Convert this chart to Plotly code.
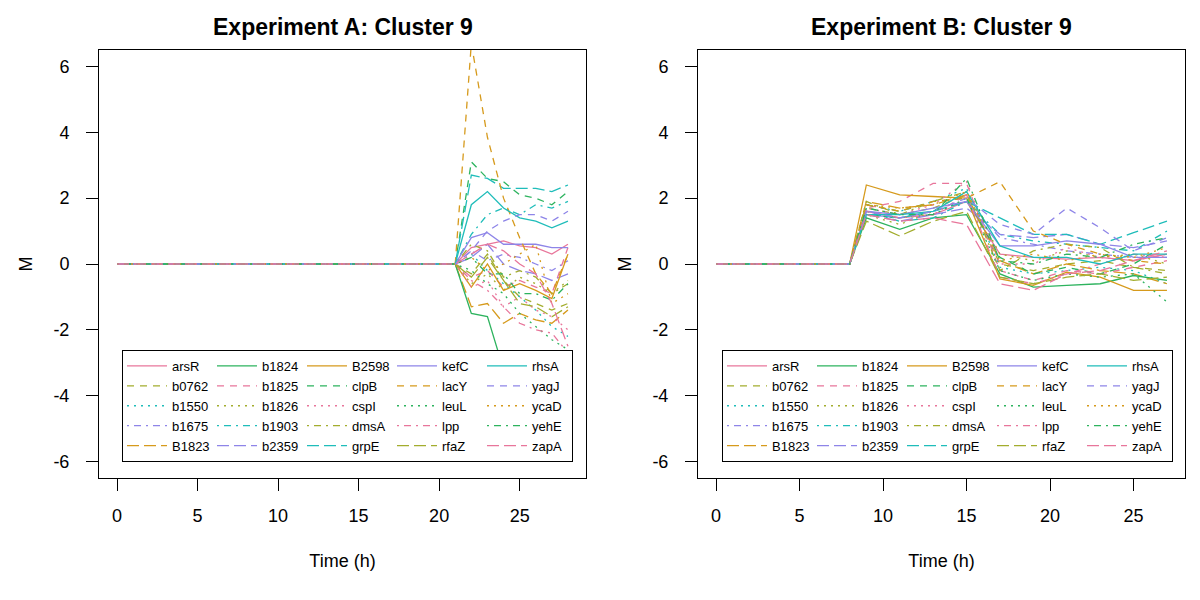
import plotly.graph_objects as go

genes = ["arsR", "b0762", "b1550", "b1675", "B1823",
         "b1824", "b1825", "b1826", "b1903", "b2359",
         "B2598", "clpB", "cspI", "dmsA", "grpE",
         "kefC", "lacY", "leuL", "lpp", "rfaZ",
         "rhsA", "yagJ", "ycaD", "yehE", "zapA"]

palette = ["#E8769B", "#A3AD2E", "#1FBDBA", "#8E85E8", "#D69A1C", "#2DB35E"]
dashes = ["solid", "7px,6px", "2px,5px", "2px,5px,7px,5px", "12px,5px"]

# Experiment A: time 0..28 h, flat until 21 h
times_a = list(range(0, 29))
flat_a = [0.0] * 22
vals_a = {
    "arsR":  [0.5, 0.6, 0.7, 0.55, 0.5, 0.3, 0.6],
    "b0762": [-0.3, 0.3, -0.5, -1.0, -1.2, -1.4, -1.2],
    "b1550": [0.3, -0.2, -0.6, -1.0, -1.4, -1.9, -2.2],
    "b1675": [0.4, 0.1, 0.3, 0.2, 0.0, -0.2, 0.1],
    "B1823": [-1.3, -1.2, -1.8, -1.5, -1.7, -1.8, -1.4],
    "b1824": [-1.5, -1.6, -3.2, -3.0, -3.05, -3.1, -3.2],
    "b1825": [-0.4, -0.2, -0.7, -0.5, -0.7, -0.9, 0.5],
    "b1826": [-0.6, -0.3, -0.8, -0.4, -0.6, -0.9, -0.5],
    "b1903": [0.9, 1.5, 1.7, 1.5, 1.8, 1.7, 1.9],
    "b2359": [0.2, 0.6, 0.0, -0.2, -0.3, -0.5, -0.3],
    "B2598": [-0.7, 0.0, -0.8, -0.6, -0.8, -1.05, 0.3],
    "clpB":  [3.1, 2.6, 2.5, 2.1, 2.0, 1.8, 2.2],
    "cspI":  [-0.7, -0.5, -1.3, -1.0, -1.4, -1.6, -2.0],
    "dmsA":  [0.6, 0.4, -0.4, -0.2, -0.4, -0.9, -0.6],
    "grpE":  [2.7, 2.6, 2.3, 2.3, 2.3, 2.2, 2.4],
    "kefC":  [0.8, 0.95, 0.6, 0.6, 0.6, 0.5, 0.5],
    "lacY":  [6.7, 3.85, 2.0, 0.8, -0.3, -0.9, 0.3],
    "leuL":  [-0.2, -0.6, -0.9, -1.5, -1.9, -2.3, -2.6],
    "lpp":   [-0.5, -0.8, -1.3, -1.8, -2.0, -2.1, -2.7],
    "rfaZ":  [-0.4, 0.2, -0.5, -1.2, -1.3, -1.6, -1.3],
    "rhsA":  [1.8, 2.2, 1.7, 1.4, 1.3, 1.1, 1.3],
    "yagJ":  [0.4, 1.0, 1.3, 1.5, 1.5, 1.3, 1.6],
    "ycaD":  [0.2, -0.2, 0.0, 0.3, 0.6, -1.2, -0.9],
    "yehE":  [0.2, -0.3, -0.3, -0.9, -0.9, -1.1, -0.6],
    "zapA":  [0.3, 0.6, 0.4, 0.0, -0.3, -1.2, -2.5],
}

# Experiment B: flat 0..8 h, then every 2 h from 9 to 27
times_b = list(range(0, 9)) + list(range(9, 28, 2))
flat_b = [0.0] * 9
vals_b = {
    "arsR":  [1.6, 1.4, 1.5, 1.9, 0.3, 0.2, 0.15, 0.2, 0.1, 0.3],
    "b0762": [1.7, 1.5, 1.7, 2.1, 0.0, -0.2, 0.0, 0.1, -0.1, -0.2],
    "b1550": [1.8, 1.6, 1.9, 2.3, -0.1, -0.3, -0.2, -0.1, -0.2, -0.6],
    "b1675": [1.5, 1.4, 1.6, 1.9, 0.8, 0.6, 0.4, 0.3, 0.2, 0.2],
    "B1823": [1.9, 1.7, 1.8, 2.1, 0.1, -0.3, 0.0, -0.2, -0.3, -0.6],
    "b1824": [1.4, 1.05, 1.4, 1.5, -0.3, -0.7, -0.65, -0.6, -0.35, -0.5],
    "b1825": [1.7, 1.9, 2.45, 2.45, -0.2, -0.5, -0.2, -0.3, -0.1, 0.1],
    "b1826": [1.5, 1.2, 1.6, 2.2, 0.3, 0.1, 0.4, 0.2, 0.3, 0.0],
    "b1903": [1.6, 1.3, 1.4, 1.9, 0.9, 0.7, 0.6, 0.5, 0.4, 1.0],
    "b2359": [1.5, 1.3, 1.5, 1.7, 0.9, 0.8, 0.9, 0.6, 0.5, 0.7],
    "B2598": [2.4, 2.1, 2.05, 2.0, -0.45, -0.65, -0.25, -0.4, -0.8, -0.8],
    "clpB":  [1.8, 1.6, 1.9, 2.0, 0.2, -0.3, -0.1, -0.3, 0.0, 0.6],
    "cspI":  [1.7, 1.5, 1.8, 2.5, 0.0, 0.0, 0.5, 0.2, 0.1, 0.3],
    "dmsA":  [1.9, 1.5, 1.9, 2.2, -0.2, 0.4, 0.6, 0.5, -0.1, -0.3],
    "grpE":  [1.5, 1.4, 1.6, 1.9, 1.4, 0.9, 0.9, 0.6, 0.95, 1.3],
    "kefC":  [1.6, 1.5, 1.7, 1.9, 0.55, 0.55, 0.7, 0.6, 0.2, 0.2],
    "lacY":  [1.8, 1.6, 1.9, 2.0, 2.5, 1.0, 0.6, 0.3, 0.1, 0.0],
    "leuL":  [1.5, 1.4, 1.5, 2.0, -0.2, -0.5, -0.3, -0.4, -0.3, -1.15],
    "lpp":   [1.6, 1.4, 1.5, 2.1, -0.4, -0.6, -0.3, 0.0, 0.3, 0.2],
    "rfaZ":  [1.3, 0.85, 1.3, 1.6, -0.4, -0.6, -0.4, -0.3, -0.5, -0.4],
    "rhsA":  [1.5, 1.5, 1.6, 2.2, 0.55, 0.2, 0.2, 0.0, 0.3, 0.3],
    "yagJ":  [1.6, 1.4, 1.6, 2.0, 1.2, 0.9, 1.7, 1.1, 0.4, 0.8],
    "ycaD":  [1.8, 1.7, 1.8, 2.2, 0.1, 0.3, 0.1, 0.3, 0.2, 0.5],
    "yehE":  [1.7, 1.5, 1.5, 2.6, 0.1, 0.0, 0.3, 0.2, 0.6, 0.8],
    "zapA":  [1.5, 1.3, 1.4, 1.2, -0.6, -0.8, -0.3, -0.2, 0.1, 0.4],
}

x_ticks = [0, 5, 10, 15, 20, 25]
y_ticks = [-6, -4, -2, 0, 2, 4, 6]
y_tick_labels = ["-6", "-4", "-2", "0", "2", "4", "6"]

FONT = "Liberation Sans, Arial, Helvetica, sans-serif"

fig = go.Figure()
for i, g in enumerate(genes):
    col = palette[i % 6]
    dash = dashes[i % 5]
    grp = i // 5
    fig.add_trace(go.Scatter(
        x=times_a, y=flat_a + vals_a[g], mode="lines", name=g,
        line=dict(color=col, dash=dash, width=1.3),
        xaxis="x", yaxis="y", legend="legend", legendgroup=f"A{grp}"))
for i, g in enumerate(genes):
    col = palette[i % 6]
    dash = dashes[i % 5]
    grp = i // 5
    fig.add_trace(go.Scatter(
        x=times_b, y=flat_b + vals_b[g], mode="lines", name=g,
        line=dict(color=col, dash=dash, width=1.3),
        xaxis="x2", yaxis="y2", legend="legend2", legendgroup=f"B{grp}"))

W, H = 1200, 600
OFF = 8  # page body margin offset
ydom = [1 - (478 - OFF) / H, 1 - (50 - OFF) / H]
xdom1 = [(99 - OFF) / W, (586 - OFF) / W]
xdom2 = [(698 - OFF) / W, (1185 - OFF) / W]

tfont = dict(size=18, color="black", family=FONT)
axis_common = dict(showline=True, linecolor="black", linewidth=1, mirror=True,
                   ticks="outside", ticklen=12, tickcolor="black", showgrid=False,
                   zeroline=False, automargin=False, tickfont=tfont)

xa = dict(axis_common, tickvals=x_ticks, ticklabelstandoff=9,
          title=dict(text="Time (h)", font=tfont, standoff=29))
ya = dict(axis_common, tickvals=y_ticks, ticktext=y_tick_labels, range=[-6.5, 6.5],
          ticklabelstandoff=13,
          title=dict(text="M", font=tfont, standoff=16))

legend_common = dict(orientation="h", traceorder="grouped", entrywidth=35, entrywidthmode="pixels",
                     itemwidth=40,
                     bgcolor="white", bordercolor="black", borderwidth=1, tracegroupgap=0,
                     font=dict(size=13, color="black", family=FONT),
                     xanchor="left", yanchor="top", itemclick=False, itemdoubleclick=False)

fig.update_layout(
    template="none",
    width=W, height=H, margin=dict(l=0, r=0, t=0, b=0, autoexpand=False),
    paper_bgcolor="white", plot_bgcolor="white",
    font=dict(family=FONT, color="black"),
    xaxis=dict(xa, domain=xdom1, range=[-1.12, 29.12], anchor="y"),
    yaxis=dict(ya, domain=ydom, anchor="x"),
    xaxis2=dict(xa, domain=xdom2, range=[-1.08, 28.08], anchor="y2"),
    yaxis2=dict(ya, domain=ydom, anchor="x2"),
    legend=dict(legend_common, x=(122 - OFF) / W, y=1 - (350 - OFF) / H),
    legend2=dict(legend_common, x=(722 - OFF) / W, y=1 - (350 - OFF) / H),
    showlegend=True,
    annotations=[
        dict(text="<b>Experiment A: Cluster 9</b>", x=(xdom1[0] + xdom1[1]) / 2, y=1 - (27 - OFF) / H,
             xref="paper", yref="paper", showarrow=False, font=dict(size=23, color="black", family=FONT),
             xanchor="center", yanchor="middle"),
        dict(text="<b>Experiment B: Cluster 9</b>", x=(xdom2[0] + xdom2[1]) / 2, y=1 - (27 - OFF) / H,
             xref="paper", yref="paper", showarrow=False, font=dict(size=23, color="black", family=FONT),
             xanchor="center", yanchor="middle"),
    ],
)

fig.write_html("out.html")
